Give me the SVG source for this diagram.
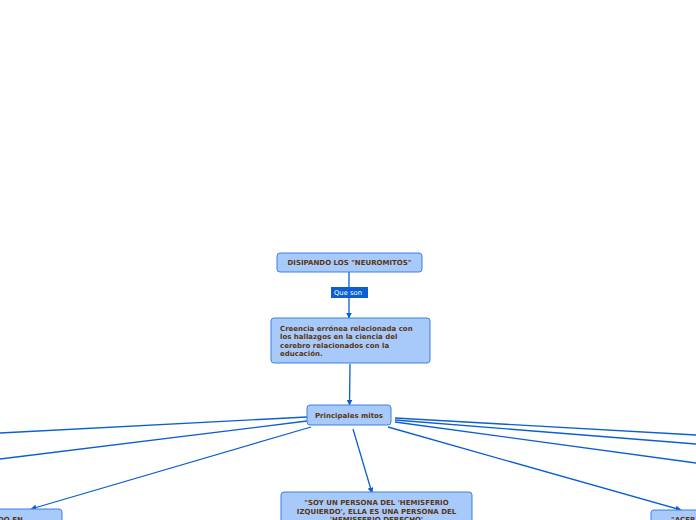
<svg xmlns="http://www.w3.org/2000/svg" width="696" height="520" viewBox="0 0 696 520">
<style>
.n{fill:#a8cafb;stroke:#3b80e6;stroke-width:1}
.t{font-family:"DejaVu Sans",Verdana,sans-serif;font-weight:bold;font-size:7px;fill:#5a3612}
.c{fill:none;stroke:#0b5fd2;stroke-width:1.3}
.lb{fill:#0b5fd2}
.lt{font-family:"DejaVu Sans",Verdana,sans-serif;font-size:6.8px;fill:#ffffff}
</style>
<defs>
<marker id="a" viewBox="0 0 10 10" refX="9" refY="5" markerWidth="6" markerHeight="6" orient="auto" markerUnits="userSpaceOnUse">
<path d="M0,0 L10,5 L0,10 z" fill="#0b5fd2"/>
</marker>
</defs>
<rect width="696" height="520" fill="#ffffff"/>
<g id="connectors">
<line class="c" x1="349" y1="272" x2="349" y2="318" marker-end="url(#a)"/>
<line class="c" x1="350" y1="364" x2="349.5" y2="405" marker-end="url(#a)"/>
<line class="c" x1="307" y1="417" x2="0" y2="433"/>
<line class="c" x1="307" y1="421" x2="0" y2="459"/>
<line class="c" x1="311" y1="427" x2="31" y2="509" marker-end="url(#a)"/>
<line class="c" x1="353" y1="429" x2="372" y2="493" marker-end="url(#a)"/>
<line class="c" x1="395" y1="418" x2="696" y2="435"/>
<line class="c" x1="395" y1="420" x2="696" y2="444"/>
<line class="c" x1="395" y1="422" x2="696" y2="463"/>
<line class="c" x1="388" y1="427" x2="681" y2="510" marker-end="url(#a)"/>
<g id="label-que-son">
<rect class="lb" x="331" y="287" width="37" height="11"/>
<text class="lt" x="334" y="295">Que son</text>
</g>
</g>
<g id="n1">
<rect class="n" x="277" y="253" width="145" height="19" rx="3"/>
<text class="t" x="349.5" y="265" text-anchor="middle">DISIPANDO LOS "NEUROMITOS"</text>
</g>
<g id="n2">
<rect class="n" x="271" y="318" width="159" height="45" rx="3"/>
<text class="t" x="280" y="330.5">Creencia errónea relacionada con</text>
<text class="t" x="280" y="339">los hallazgos en la ciencia del</text>
<text class="t" x="280" y="347.5">cerebro relacionados con la</text>
<text class="t" x="280" y="356">educación.</text>
</g>
<g id="n3">
<rect class="n" x="307" y="405" width="84" height="20" rx="3"/>
<text class="t" x="349" y="417.5" text-anchor="middle">Principales mitos</text>
</g>
<g id="n4">
<rect class="n" x="281" y="492" width="191" height="40" rx="3"/>
<text class="t" x="376.5" y="505" text-anchor="middle">"SOY UN PERSONA DEL 'HEMISFERIO</text>
<text class="t" x="376.5" y="513.5" text-anchor="middle">IZQUIERDO', ELLA ES UNA PERSONA DEL</text>
<text class="t" x="376.5" y="522" text-anchor="middle">'HEMISFERIO DERECHO'</text>
</g>
<g id="n5">
<rect class="n" x="-40" y="509" width="102" height="30" rx="3"/>
<text class="t" x="-2" y="521.5">DO EN</text>
</g>
<g id="n6">
<rect class="n" x="651" y="510" width="80" height="30" rx="3"/>
<text class="t" x="671" y="522">"ACER</text>
</g>
</svg>
